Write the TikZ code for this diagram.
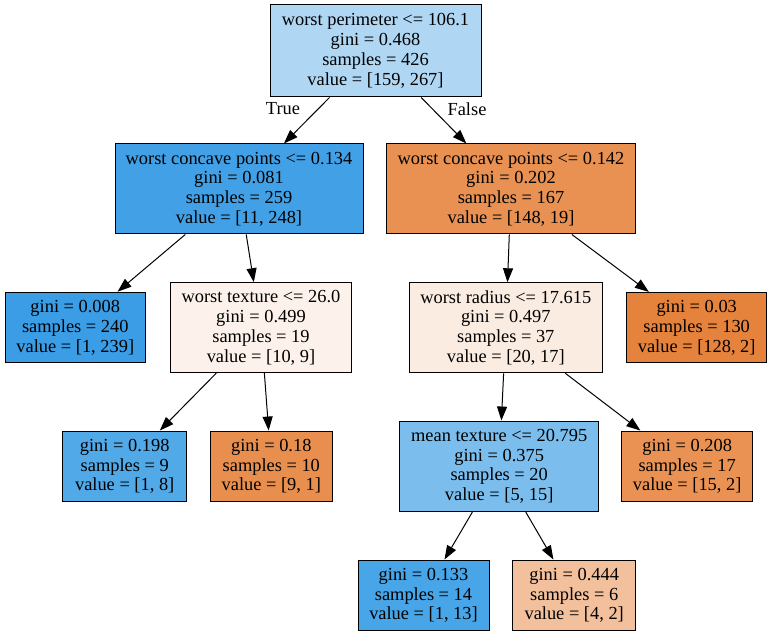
\documentclass[tikz,border=0pt]{standalone}
\usepackage{fontspec}
\setmainfont{Liberation Serif}
\usetikzlibrary{arrows.meta}
\definecolor{c0}{RGB}{175,215,244}
\definecolor{c1}{RGB}{66,161,230}
\definecolor{c2}{RGB}{232,145,82}
\definecolor{c3}{RGB}{58,157,229}
\definecolor{c4}{RGB}{252,242,235}
\definecolor{c5}{RGB}{251,236,225}
\definecolor{c6}{RGB}{229,131,60}
\definecolor{c7}{RGB}{82,169,232}
\definecolor{c8}{RGB}{232,143,79}
\definecolor{c9}{RGB}{123,190,238}
\definecolor{c10}{RGB}{233,146,83}
\definecolor{c11}{RGB}{72,165,231}
\definecolor{c12}{RGB}{242,192,156}
\tikzset{
  tn/.style={draw=black, line width=1pt, rectangle, inner sep=0pt, align=center,
    font=\fontsize{18.4}{19.8}\selectfont},
  edge/.style={line width=1pt, -{Triangle[length=14pt,width=10pt]}},
  elab/.style={font=\fontsize{18.4}{19.8}\selectfont, inner sep=0pt}
}
\begin{document}
\begin{tikzpicture}[x=1pt,y=-1pt]
\useasboundingbox (0,0) rectangle (772,636);
\node[tn, fill=c0, minimum width=211pt, minimum height=92pt] (n0) at (375.5,51)
  {worst perimeter <= 106.1\\gini = 0.468\\samples = 426\\value = [159, 267]};
\node[tn, fill=c1, minimum width=248pt, minimum height=90pt] (n1) at (239,189)
  {worst concave points <= 0.134\\gini = 0.081\\samples = 259\\value = [11, 248]};
\node[tn, fill=c2, minimum width=249pt, minimum height=90pt] (n2) at (511,189)
  {worst concave points <= 0.142\\gini = 0.202\\samples = 167\\value = [148, 19]};
\node[tn, fill=c3, minimum width=140.5pt, minimum height=70.5pt] (n3) at (75.3,327.5)
  {gini = 0.008\\samples = 240\\value = [1, 239]};
\node[tn, fill=c4, minimum width=181.5pt, minimum height=90pt] (n4) at (261,327.7)
  {worst texture <= 26.0\\gini = 0.499\\samples = 19\\value = [10, 9]};
\node[tn, fill=c5, minimum width=193pt, minimum height=90pt] (n5) at (505.8,327.8)
  {worst radius <= 17.615\\gini = 0.497\\samples = 37\\value = [20, 17]};
\node[tn, fill=c6, minimum width=140pt, minimum height=70.5pt] (n6) at (696.7,327.7)
  {gini = 0.03\\samples = 130\\value = [128, 2]};
\node[tn, fill=c7, minimum width=124pt, minimum height=70.5pt] (n7) at (124.7,466.3)
  {gini = 0.198\\samples = 9\\value = [1, 8]};
\node[tn, fill=c8, minimum width=122.5pt, minimum height=70.5pt] (n8) at (271.3,466.3)
  {gini = 0.18\\samples = 10\\value = [9, 1]};
\node[tn, fill=c9, minimum width=199.5pt, minimum height=90.5pt] (n9) at (499.2,466.3)
  {mean texture <= 20.795\\gini = 0.375\\samples = 20\\value = [5, 15]};
\node[tn, fill=c10, minimum width=131pt, minimum height=70.5pt] (n10) at (687.2,466.3)
  {gini = 0.208\\samples = 17\\value = [15, 2]};
\node[tn, fill=c11, minimum width=131pt, minimum height=70.5pt] (n11) at (423.5,595.3)
  {gini = 0.133\\samples = 14\\value = [1, 13]};
\node[tn, fill=c12, minimum width=123pt, minimum height=70.5pt] (n12) at (574.2,595.3)
  {gini = 0.444\\samples = 6\\value = [4, 2]};
\draw[edge] (n0) -- (n1);
\draw[edge] (n0) -- (n2);
\draw[edge] (n1) -- (n3);
\draw[edge] (n1) -- (n4);
\draw[edge] (n2) -- (n5);
\draw[edge] (n2) -- (n6);
\draw[edge] (n4) -- (n7);
\draw[edge] (n4) -- (n8);
\draw[edge] (n5) -- (n9);
\draw[edge] (n5) -- (n10);
\draw[edge] (n9) -- (n11);
\draw[edge] (n9) -- (n12);
\node[elab] (tlab) at (283,109) {True};
\node[elab] (flab) at (467,109) {False};
\end{tikzpicture}
\end{document}
